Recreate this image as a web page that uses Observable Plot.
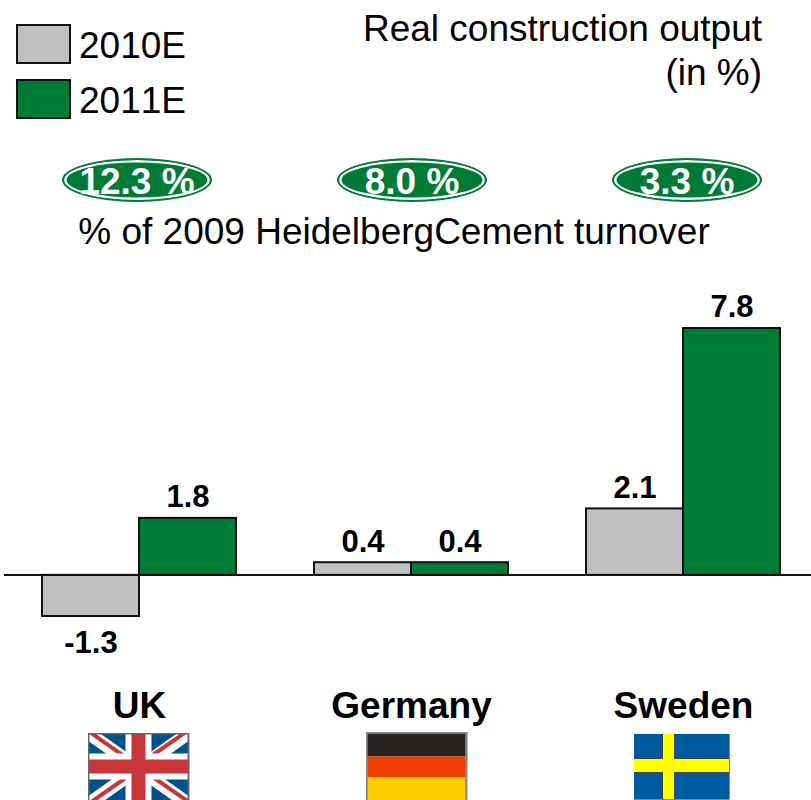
<!DOCTYPE html>
<html>
<head>
<meta charset="utf-8">
<script src="https://cdn.jsdelivr.net/npm/d3@7"></script>
<script src="https://cdn.jsdelivr.net/npm/@observablehq/plot@0.6"></script>
<style>
html,body{margin:0;padding:0;background:#fff;}
#page{position:relative;width:811px;height:800px;overflow:hidden;font-family:"Liberation Sans",Arial,sans-serif;color:#000;}
#head{position:absolute;left:0;top:0;width:811px;height:290px;}
#chart{position:absolute;left:0;top:290px;}
#chart svg{display:block;}
.sw{position:absolute;left:16px;width:51px;height:36px;border:2px solid #111;}
.lab{position:absolute;left:79px;font-size:37px;line-height:38px;font-kerning:none;}
.title{position:absolute;right:49px;top:7px;text-align:right;font-size:37px;line-height:44px;}
.oval{position:absolute;top:158px;width:146px;height:40px;border-radius:50%;background:#007a37;border:2px solid #007a37;box-shadow:inset 0 0 0 2.5px #fff;color:#fff;font-weight:bold;font-size:37px;line-height:43px;text-align:center;}
.sub{position:absolute;left:0;top:212px;width:788px;text-align:center;font-size:37px;line-height:40px;}
</style>
</head>
<body>
<div id="page">
  <div id="head"></div>
  <div id="chart"></div>
</div>
<script>
const countries = ["UK", "Germany", "Sweden"];
const years = ["2010E", "2011E"];
const values2010 = [-1.3, 0.4, 2.1];
const values2011 = [1.8, 0.4, 7.8];
const turnoverShare = ["12.3 %", "8.0 %", "3.3 %"];
const yearColors = ["#c0c0c0", "#007a37"];
const titleLines = ["Real construction output", "(in %)"];
const subtitle = "% of 2009 HeidelbergCement turnover";

const rows = countries.flatMap((c, i) => [
  {country: c, year: years[0], value: values2010[i]},
  {country: c, year: years[1], value: values2011[i]}
]);

// header
const head = document.getElementById("head");
const add = (cls, html, style) => {
  const e = document.createElement("div");
  e.className = cls; e.innerHTML = html; Object.assign(e.style, style || {});
  head.appendChild(e);
};
years.forEach((y, i) => {
  add("sw", "", {top: (i ? 79 : 24) + "px", background: yearColors[i]});
  add("lab", y, {top: (i ? 82 : 27) + "px"});
});
add("title", titleLines.join("<br>"));
turnoverShare.forEach((t, i) => add("oval", t, {left: [62, 337, 612][i] + "px"}));
add("sub", subtitle);

// flags
const svgUri = s => "data:image/svg+xml," + encodeURIComponent(s);
const ukFlag = svgUri(`<svg xmlns="http://www.w3.org/2000/svg" width="102" height="72" viewBox="0 0 102 72" preserveAspectRatio="none">
<rect width="102" height="72" fill="#00508a"/>
<path d="M0 0L102 72M102 0L0 72" stroke="#fff" stroke-width="13"/>
<path d="M0 -2L47 31M102 -3L56 29M0 72L46 40M102 70L56 38" stroke="#c8363a" stroke-width="4" fill="none"/>
<path d="M51 0V72M0 34H102" stroke="#fff" stroke-width="26"/>
<path d="M51 0V72M0 34H102" stroke="#c8363a" stroke-width="14"/>
<rect x="1" y="1" width="100" height="70" fill="none" stroke="#666" stroke-width="2"/></svg>`);
const deFlag = svgUri(`<svg xmlns="http://www.w3.org/2000/svg" width="102" height="72" viewBox="0 0 102 72" preserveAspectRatio="none">
<rect width="102" height="25" fill="#28241f"/>
<rect y="25" width="102" height="21" fill="#ee3d00"/>
<rect y="46" width="102" height="26" fill="#ffcc00"/>
<rect x="1" y="1" width="100" height="70" fill="none" stroke="#888" stroke-width="2.5"/></svg>`);
const seFlag = svgUri(`<svg xmlns="http://www.w3.org/2000/svg" width="96" height="66" viewBox="0 0 96 66" preserveAspectRatio="none">
<rect width="96" height="66" fill="#005aa0" stroke="#444" stroke-width="1"/>
<path d="M0 25H29V0H41V25H96V39H41V66H29V39H0Z" fill="#ffff00" stroke="#444" stroke-width="1"/></svg>`);
const flags = [
  {country: "UK", src: ukFlag, w: 102, h: 72, dx: -1, dy: 152},
  {country: "Germany", src: deFlag, w: 102, h: 72, dx: 5, dy: 151},
  {country: "Sweden", src: seFlag, w: 96, h: 66, dx: -2, dy: 150}
];

const chart = Plot.plot({
  width: 811,
  height: 510,
  marginLeft: 42,
  marginRight: 31,
  marginTop: 38,
  marginBottom: 184,
  style: {fontFamily: '"Liberation Sans", Arial, sans-serif', background: "transparent", overflow: "hidden"},
  fx: {domain: countries, padding: 78 / 272, label: null},
  x: {domain: years, axis: null, padding: 0},
  y: {domain: [-1.3, 7.8], axis: null},
  color: {domain: years, range: yearColors},
  marks: [
    Plot.barY(rows, {fx: "country", x: "year", y: "value", fill: "year", stroke: "#111", strokeWidth: 2}),
    Plot.ruleY([0], {stroke: "#111", strokeWidth: 2, insetLeft: -38, insetRight: -45, shapeRendering: "crispEdges"}),
    Plot.text(rows.filter(d => d.value >= 0), {fx: "country", x: "year", y: "value", text: d => d.value.toFixed(1), fontSize: 31, fontWeight: "bold", fill: "#000", dy: -21}),
    Plot.text(rows.filter(d => d.value < 0), {fx: "country", x: "year", y: "value", text: d => d.value.toFixed(1), fontSize: 31, fontWeight: "bold", fill: "#000", dy: 27}),
    Plot.axisFx({anchor: "bottom", tickSize: 0, tickPadding: 75, fontSize: 37, fontWeight: "bold", fill: "#000", label: null}),
    ...flags.map(f => Plot.image([f], {fx: "country", frameAnchor: "bottom", src: "src", width: f.w, height: f.h, preserveAspectRatio: "none", dx: f.dx, dy: f.dy}))
  ]
});
document.getElementById("chart").appendChild(chart);
</script>
</body>
</html>
